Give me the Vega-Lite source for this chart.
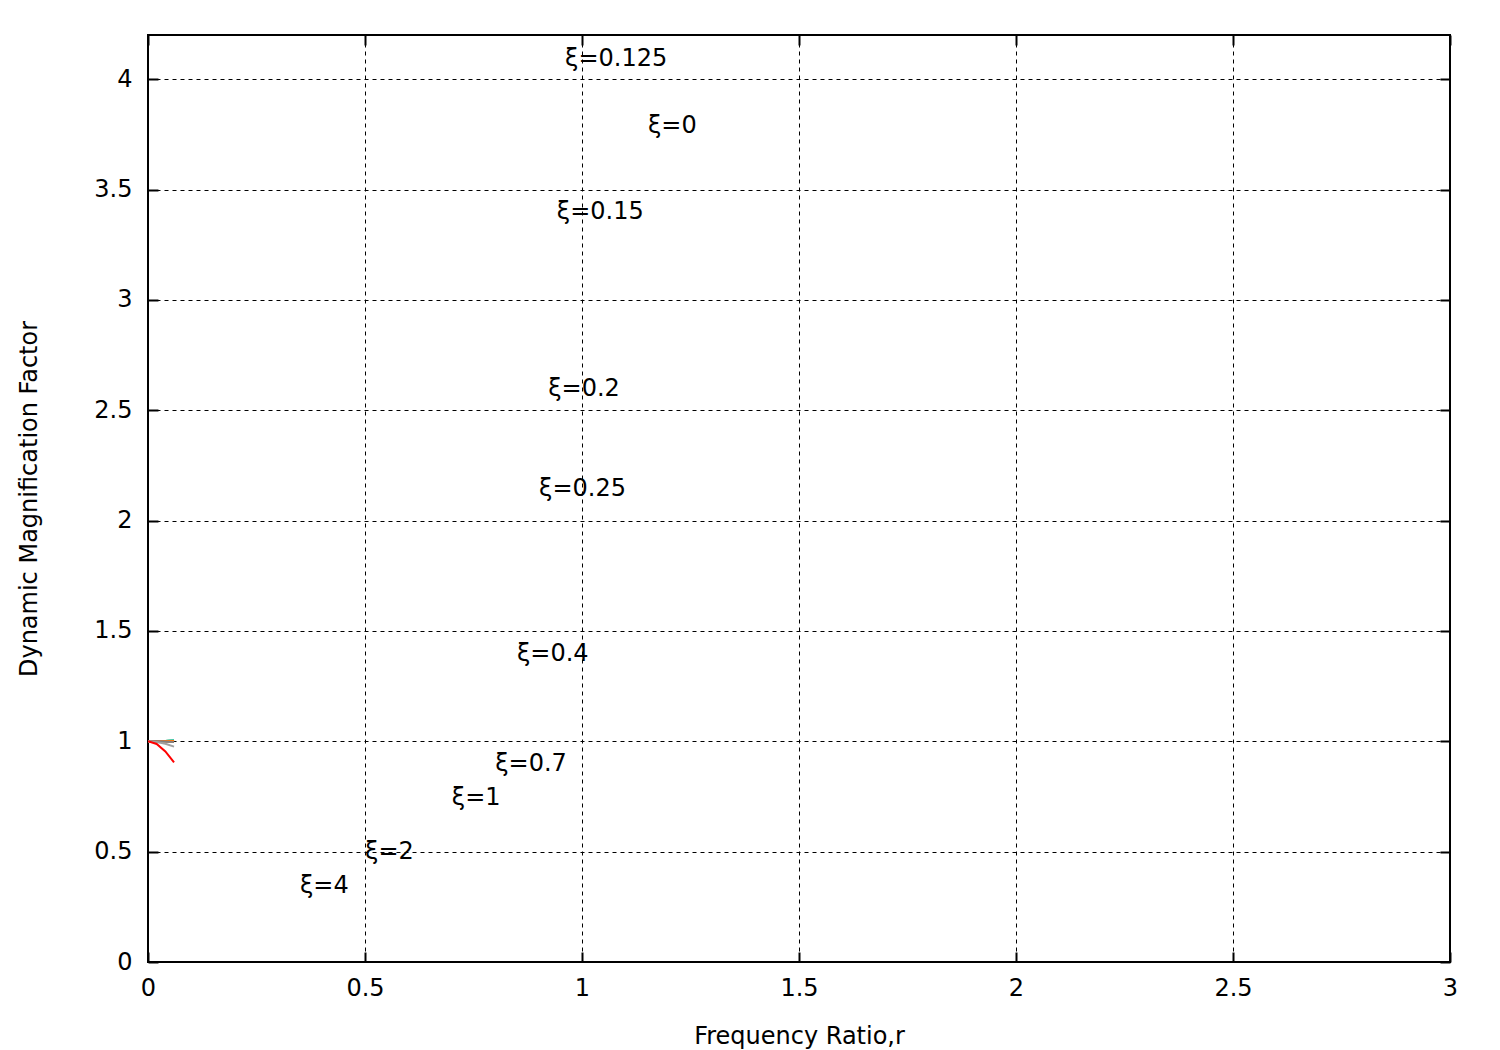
{
  "$schema": "https://vega.github.io/schema/vega-lite/v6.json",
  "autosize": {"type": "none"},
  "padding": {"left": 148, "top": 35, "right": 50, "bottom": 88},
  "width": 1302,
  "height": 927,
  "background": "white",
  "config": {
    "view": {"stroke": "black", "strokeWidth": 2},
    "font": "DejaVu Sans",
    "axis": {
      "labelFont": "DejaVu Sans", "titleFont": "DejaVu Sans",
      "labelFontSize": 24, "titleFontSize": 24, "labelColor": "black", "titleColor": "black",
      "titleFontWeight": "normal",
      "domain": false, "tickColor": "black", "tickWidth": 2, "tickSize": -10,
      "gridColor": "black", "gridDash": [4, 4], "gridWidth": 1, "gridOpacity": 1
    }
  },
  "datasets": {
    "curves": [
      {"xi": "0", "r": 0, "m": 1}, {"xi": "0", "r": 0.02, "m": 1.0004}, {"xi": "0", "r": 0.04, "m": 1.0016}, {"xi": "0", "r": 0.06, "m": 1.0036},
      {"xi": "0.125", "r": 0, "m": 1}, {"xi": "0.125", "r": 0.02, "m": 1.0004}, {"xi": "0.125", "r": 0.04, "m": 1.0015}, {"xi": "0.125", "r": 0.06, "m": 1.0034},
      {"xi": "0.15", "r": 0, "m": 1}, {"xi": "0.15", "r": 0.02, "m": 1.0004}, {"xi": "0.15", "r": 0.04, "m": 1.0015}, {"xi": "0.15", "r": 0.06, "m": 1.0032},
      {"xi": "0.2", "r": 0, "m": 1}, {"xi": "0.2", "r": 0.02, "m": 1.0003}, {"xi": "0.2", "r": 0.04, "m": 1.0013}, {"xi": "0.2", "r": 0.06, "m": 1.0030},
      {"xi": "0.25", "r": 0, "m": 1}, {"xi": "0.25", "r": 0.02, "m": 1.0003}, {"xi": "0.25", "r": 0.04, "m": 1.0012}, {"xi": "0.25", "r": 0.06, "m": 1.0027},
      {"xi": "0.4", "r": 0, "m": 1}, {"xi": "0.4", "r": 0.02, "m": 1.0001}, {"xi": "0.4", "r": 0.04, "m": 1.0006}, {"xi": "0.4", "r": 0.06, "m": 1.0013},
      {"xi": "0.7", "r": 0, "m": 1}, {"xi": "0.7", "r": 0.02, "m": 0.9998}, {"xi": "0.7", "r": 0.04, "m": 0.9992}, {"xi": "0.7", "r": 0.06, "m": 0.9982},
      {"xi": "1", "r": 0, "m": 1}, {"xi": "1", "r": 0.02, "m": 0.9996}, {"xi": "1", "r": 0.04, "m": 0.9984}, {"xi": "1", "r": 0.06, "m": 0.9962},
      {"xi": "2", "r": 0, "m": 1}, {"xi": "2", "r": 0.02, "m": 0.9972}, {"xi": "2", "r": 0.04, "m": 0.989}, {"xi": "2", "r": 0.06, "m": 0.976},
      {"xi": "4", "r": 0, "m": 1}, {"xi": "4", "r": 0.02, "m": 0.9878}, {"xi": "4", "r": 0.04, "m": 0.9538}, {"xi": "4", "r": 0.06, "m": 0.904}
    ],
    "labels": [
      {"t": "ξ=0.125", "x": 0.961, "y": 4.09},
      {"t": "ξ=0", "x": 1.152, "y": 3.787},
      {"t": "ξ=0.15", "x": 0.942, "y": 3.398},
      {"t": "ξ=0.2", "x": 0.922, "y": 2.597},
      {"t": "ξ=0.25", "x": 0.901, "y": 2.145},
      {"t": "ξ=0.4", "x": 0.85, "y": 1.394},
      {"t": "ξ=0.7", "x": 0.8, "y": 0.896},
      {"t": "ξ=1", "x": 0.7, "y": 0.742},
      {"t": "ξ=2", "x": 0.5, "y": 0.498},
      {"t": "ξ=4", "x": 0.35, "y": 0.344}
    ]
  },
  "layer": [
    {
      "data": {"name": "curves"},
      "mark": {"type": "line", "strokeWidth": 2, "clip": true},
      "encoding": {
        "x": {"field": "r", "type": "quantitative", "scale": {"domain": [0, 3], "nice": false},
              "axis": {"values": [0, 0.5, 1, 1.5, 2, 2.5, 3], "format": "~g", "title": "Frequency Ratio,r", "titlePadding": 24, "labelPadding": 24, "labelFlush": false, "grid": true}},
        "y": {"field": "m", "type": "quantitative", "scale": {"domain": [0, 4.2], "nice": false, "zero": true},
              "axis": {"values": [0, 0.5, 1, 1.5, 2, 2.5, 3, 3.5, 4], "format": "~g", "title": "Dynamic Magnification Factor", "titlePadding": 52, "labelPadding": 26, "grid": true}},
        "color": {"field": "xi", "type": "nominal", "legend": null,
                  "scale": {"domain": ["0", "0.125", "0.15", "0.2", "0.25", "0.4", "0.7", "1", "2", "4"],
                            "range": ["#00c000", "#0080ff", "#ffc020", "#00e0e0", "#20c0c0", "#ff8000", "#ff6020", "#808080", "#a0a0a0", "#ff0000"]}},
        "detail": {"field": "xi"}
      }
    },
    {
      "data": {"name": "labels"},
      "mark": {"type": "text", "align": "left", "baseline": "middle", "fontSize": 24, "font": "DejaVu Sans", "color": "black"},
      "encoding": {
        "x": {"field": "x", "type": "quantitative", "axis": null},
        "y": {"field": "y", "type": "quantitative", "axis": null},
        "text": {"field": "t"}
      }
    },
    {
      "data": {"name": "labels"},
      "mark": {"type": "point", "opacity": 0},
      "encoding": {
        "x": {"field": "x", "type": "quantitative", "axis": {"orient": "top", "values": [0, 0.5, 1, 1.5, 2, 2.5, 3], "labels": false, "title": null, "grid": false}},
        "y": {"field": "y", "type": "quantitative", "axis": {"orient": "right", "values": [0, 0.5, 1, 1.5, 2, 2.5, 3, 3.5, 4], "labels": false, "title": null, "grid": false}}
      }
    }
  ],
  "resolve": {"axis": {"x": "independent", "y": "independent"}}
}
